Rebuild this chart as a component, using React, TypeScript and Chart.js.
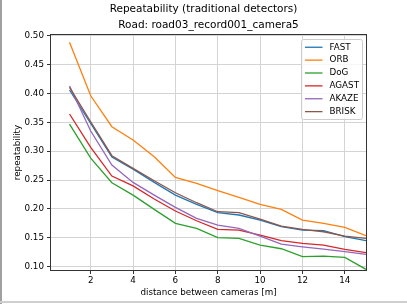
import React, { useEffect, useRef } from "react";
import { Chart, registerables } from "chart.js";

Chart.register(...registerables);

const distances = [1, 2, 3, 4, 5, 6, 7, 8, 9, 10, 11, 12, 13, 14, 15];
const fastValues = [0.406, 0.348, 0.29, 0.269, 0.246, 0.224, 0.208, 0.1935, 0.1895, 0.1808, 0.1692, 0.1635, 0.1623, 0.1519, 0.145];
const orbValues = [0.4886, 0.396, 0.3424, 0.3193, 0.2904, 0.2547, 0.2443, 0.2316, 0.22, 0.208, 0.1993, 0.1808, 0.175, 0.1681, 0.1536];
const dogValues = [0.347, 0.288, 0.2454, 0.224, 0.1993, 0.175, 0.1664, 0.1503, 0.149, 0.1375, 0.1311, 0.1173, 0.1184, 0.1162, 0.0954];
const agastValues = [0.3644, 0.3067, 0.257, 0.24, 0.2172, 0.1964, 0.1796, 0.1647, 0.1635, 0.1548, 0.145, 0.1404, 0.1375, 0.13, 0.1242];
const akazeValues = [0.413, 0.335, 0.276, 0.246, 0.224, 0.2028, 0.1837, 0.172, 0.1664, 0.153, 0.1392, 0.1345, 0.1306, 0.126, 0.1213];
const briskValues = [0.4106, 0.351, 0.2922, 0.2703, 0.2489, 0.228, 0.2108, 0.1952, 0.1935, 0.1825, 0.1704, 0.1647, 0.1605, 0.153, 0.149];

const seriesNames = ["FAST", "ORB", "DoG", "AGAST", "AKAZE", "BRISK"];
const seriesValues = [fastValues, orbValues, dogValues, agastValues, akazeValues, briskValues];
const seriesColors = ["#1f77b4", "#ff7f0e", "#2ca02c", "#d62728", "#9467bd", "#8c564b"];

const xTicks = [2, 4, 6, 8, 10, 12, 14];
const yTicks = [0.1, 0.15, 0.2, 0.25, 0.3, 0.35, 0.4, 0.45, 0.5];

const titleText = "Repeatability (traditional detectors)";
const subtitleText = "Road: road03_record001_camera5";
const xLabel = "distance between cameras [m]";
const yLabel = "repeatability";

const FONT = "DejaVu Sans";
const SMALL = 8.75;
const BIG = 10.5;

const framePlugin = {
  id: "mplFrame",
  afterDatasetsDraw(chart: any) {
    const { ctx, chartArea } = chart;
    ctx.save();
    ctx.strokeStyle = "#333333";
    ctx.lineWidth = 1;
    const l = Math.round(chartArea.left) - 0.5;
    const t = Math.round(chartArea.top) - 0.5;
    const r = Math.round(chartArea.right) + 0.5;
    const b = Math.round(chartArea.bottom) + 0.5;
    ctx.strokeRect(l, t, r - l, b - t);
    ctx.restore();
  },
};

const legendPlugin = {
  id: "mplLegend",
  afterDraw(chart: any) {
    const { ctx, chartArea } = chart;
    const fs = SMALL;
    ctx.save();
    ctx.font = `${fs}px "${FONT}"`;
    const items = chart.data.datasets.map((d: any) => ({ label: d.label, color: d.borderColor }));
    const textW = Math.max(...items.map((i: any) => ctx.measureText(i.label).width));
    const pad = 0.4 * fs;
    const handle = 2 * fs;
    const gap = 0.8 * fs;
    const rowH = 8.5;
    const spacing = 0.5 * fs;
    const w = pad + handle + gap + textW + pad;
    const h = 2 * pad + items.length * rowH + (items.length - 1) * spacing;
    const x0 = Math.round(chartArea.right - 0.5 * fs - w) + 0.5;
    const y0 = Math.round(chartArea.top + 0.5 * fs) + 0.5;
    ctx.beginPath();
    if ((ctx as any).roundRect) {
      (ctx as any).roundRect(x0, y0, Math.round(w), Math.round(h), 2);
    } else {
      ctx.rect(x0, y0, Math.round(w), Math.round(h));
    }
    ctx.fillStyle = "rgba(255,255,255,0.8)";
    ctx.fill();
    ctx.strokeStyle = "#cccccc";
    ctx.lineWidth = 1;
    ctx.stroke();
    ctx.textBaseline = "middle";
    ctx.textAlign = "left";
    items.forEach((it: any, i: number) => {
      const cy = y0 + pad + rowH / 2 + i * (rowH + spacing);
      ctx.beginPath();
      ctx.strokeStyle = it.color;
      ctx.lineWidth = 1.3;
      ctx.moveTo(x0 + pad, cy);
      ctx.lineTo(x0 + pad + handle, cy);
      ctx.stroke();
      ctx.fillStyle = "#000000";
      ctx.fillText(it.label, x0 + pad + handle + gap, cy);
    });
    ctx.restore();
  },
};

export default function App() {
  const ref = useRef<HTMLCanvasElement>(null);

  useEffect(() => {
    const canvas = ref.current;
    if (!canvas) return;
    const datasets = seriesNames.map((name, i) => ({
      label: name,
      data: distances.map((d, j) => ({ x: d, y: seriesValues[i][j] })),
      borderColor: seriesColors[i],
      backgroundColor: seriesColors[i],
      borderWidth: 1.3,
      pointRadius: 0,
      pointHoverRadius: 0,
      tension: 0,
      fill: false,
      order: seriesNames.length - i,
    }));

    const chart = new Chart(canvas, {
      type: "line",
      data: { datasets },
      options: {
        animation: false,
        responsive: false,
        maintainAspectRatio: false,
        devicePixelRatio: 1,
        layout: { padding: 0 },
        plugins: {
          legend: { display: false },
          tooltip: { enabled: false },
          title: {
            display: true,
            text: titleText,
            color: "#000000",
            font: { family: FONT, size: BIG, weight: "normal" },
            padding: { top: 3.2, bottom: 1 },
          },
          subtitle: {
            display: true,
            text: subtitleText,
            color: "#000000",
            fullSize: false,
            font: { family: FONT, size: BIG, weight: "normal" },
            padding: { top: 2.4, bottom: 3.2 },
          },
        },
        scales: {
          x: {
            type: "linear",
            position: "bottom",
            min: 0.1253,
            max: 15,
            afterBuildTicks: (scale: any) => {
              scale.ticks = xTicks.map((v) => ({ value: v }));
            },
            afterFit: (scale: any) => {
              scale.height = 34;
            },
            ticks: {
              color: "#000000",
              font: { family: FONT, size: SMALL },
              padding: 1,
              maxRotation: 0,
              autoSkip: false,
              callback: (v: any) => String(v),
            },
            grid: {
              color: "#d4d4d4",
              lineWidth: 1,
              tickColor: "#333333",
              tickLength: 4,
              drawTicks: true,
            },
            border: { display: false },
            title: {
              display: true,
              text: xLabel,
              color: "#000000",
              font: { family: FONT, size: SMALL },
              padding: { top: 0, bottom: 6 },
            },
          },
          y: {
            type: "linear",
            position: "left",
            min: 0.09429,
            max: 0.50121,
            afterBuildTicks: (scale: any) => {
              scale.ticks = yTicks.map((v) => ({ value: v }));
            },
            afterFit: (scale: any) => {
              scale.width = 51;
            },
            ticks: {
              color: "#000000",
              font: { family: FONT, size: SMALL },
              padding: 3,
              autoSkip: false,
              callback: (v: any) => Number(v).toFixed(2),
            },
            grid: {
              color: "#d4d4d4",
              lineWidth: 1,
              tickColor: "#333333",
              tickLength: 4,
              drawTicks: true,
            },
            border: { display: false },
            title: {
              display: true,
              text: yLabel,
              color: "#000000",
              font: { family: FONT, size: SMALL },
              padding: { top: 12, bottom: 0 },
            },
          },
          yRight: {
            type: "linear",
            position: "right",
            display: true,
            min: 0,
            max: 1,
            afterFit: (scale: any) => {
              scale.width = 41;
            },
            ticks: { display: false },
            grid: { display: false, drawTicks: false },
            border: { display: false },
          },
        },
      } as any,
      plugins: [framePlugin, legendPlugin],
    });

    return () => chart.destroy();
  }, []);

  return (
    <div style={{ position: "fixed", left: 0, top: 0, width: 407, height: 304, background: "#ffffff" }}>
      <canvas ref={ref} width={407} height={304} style={{ display: "block", width: 407, height: 304 }} />
      <div style={{ position: "absolute", left: 0, top: 0, width: 2, height: 304, background: "#a0a0a0" }} />
      <div style={{ position: "absolute", left: 0, top: 301, width: 407, height: 2, background: "#cfcfcf" }} />
    </div>
  );
}
